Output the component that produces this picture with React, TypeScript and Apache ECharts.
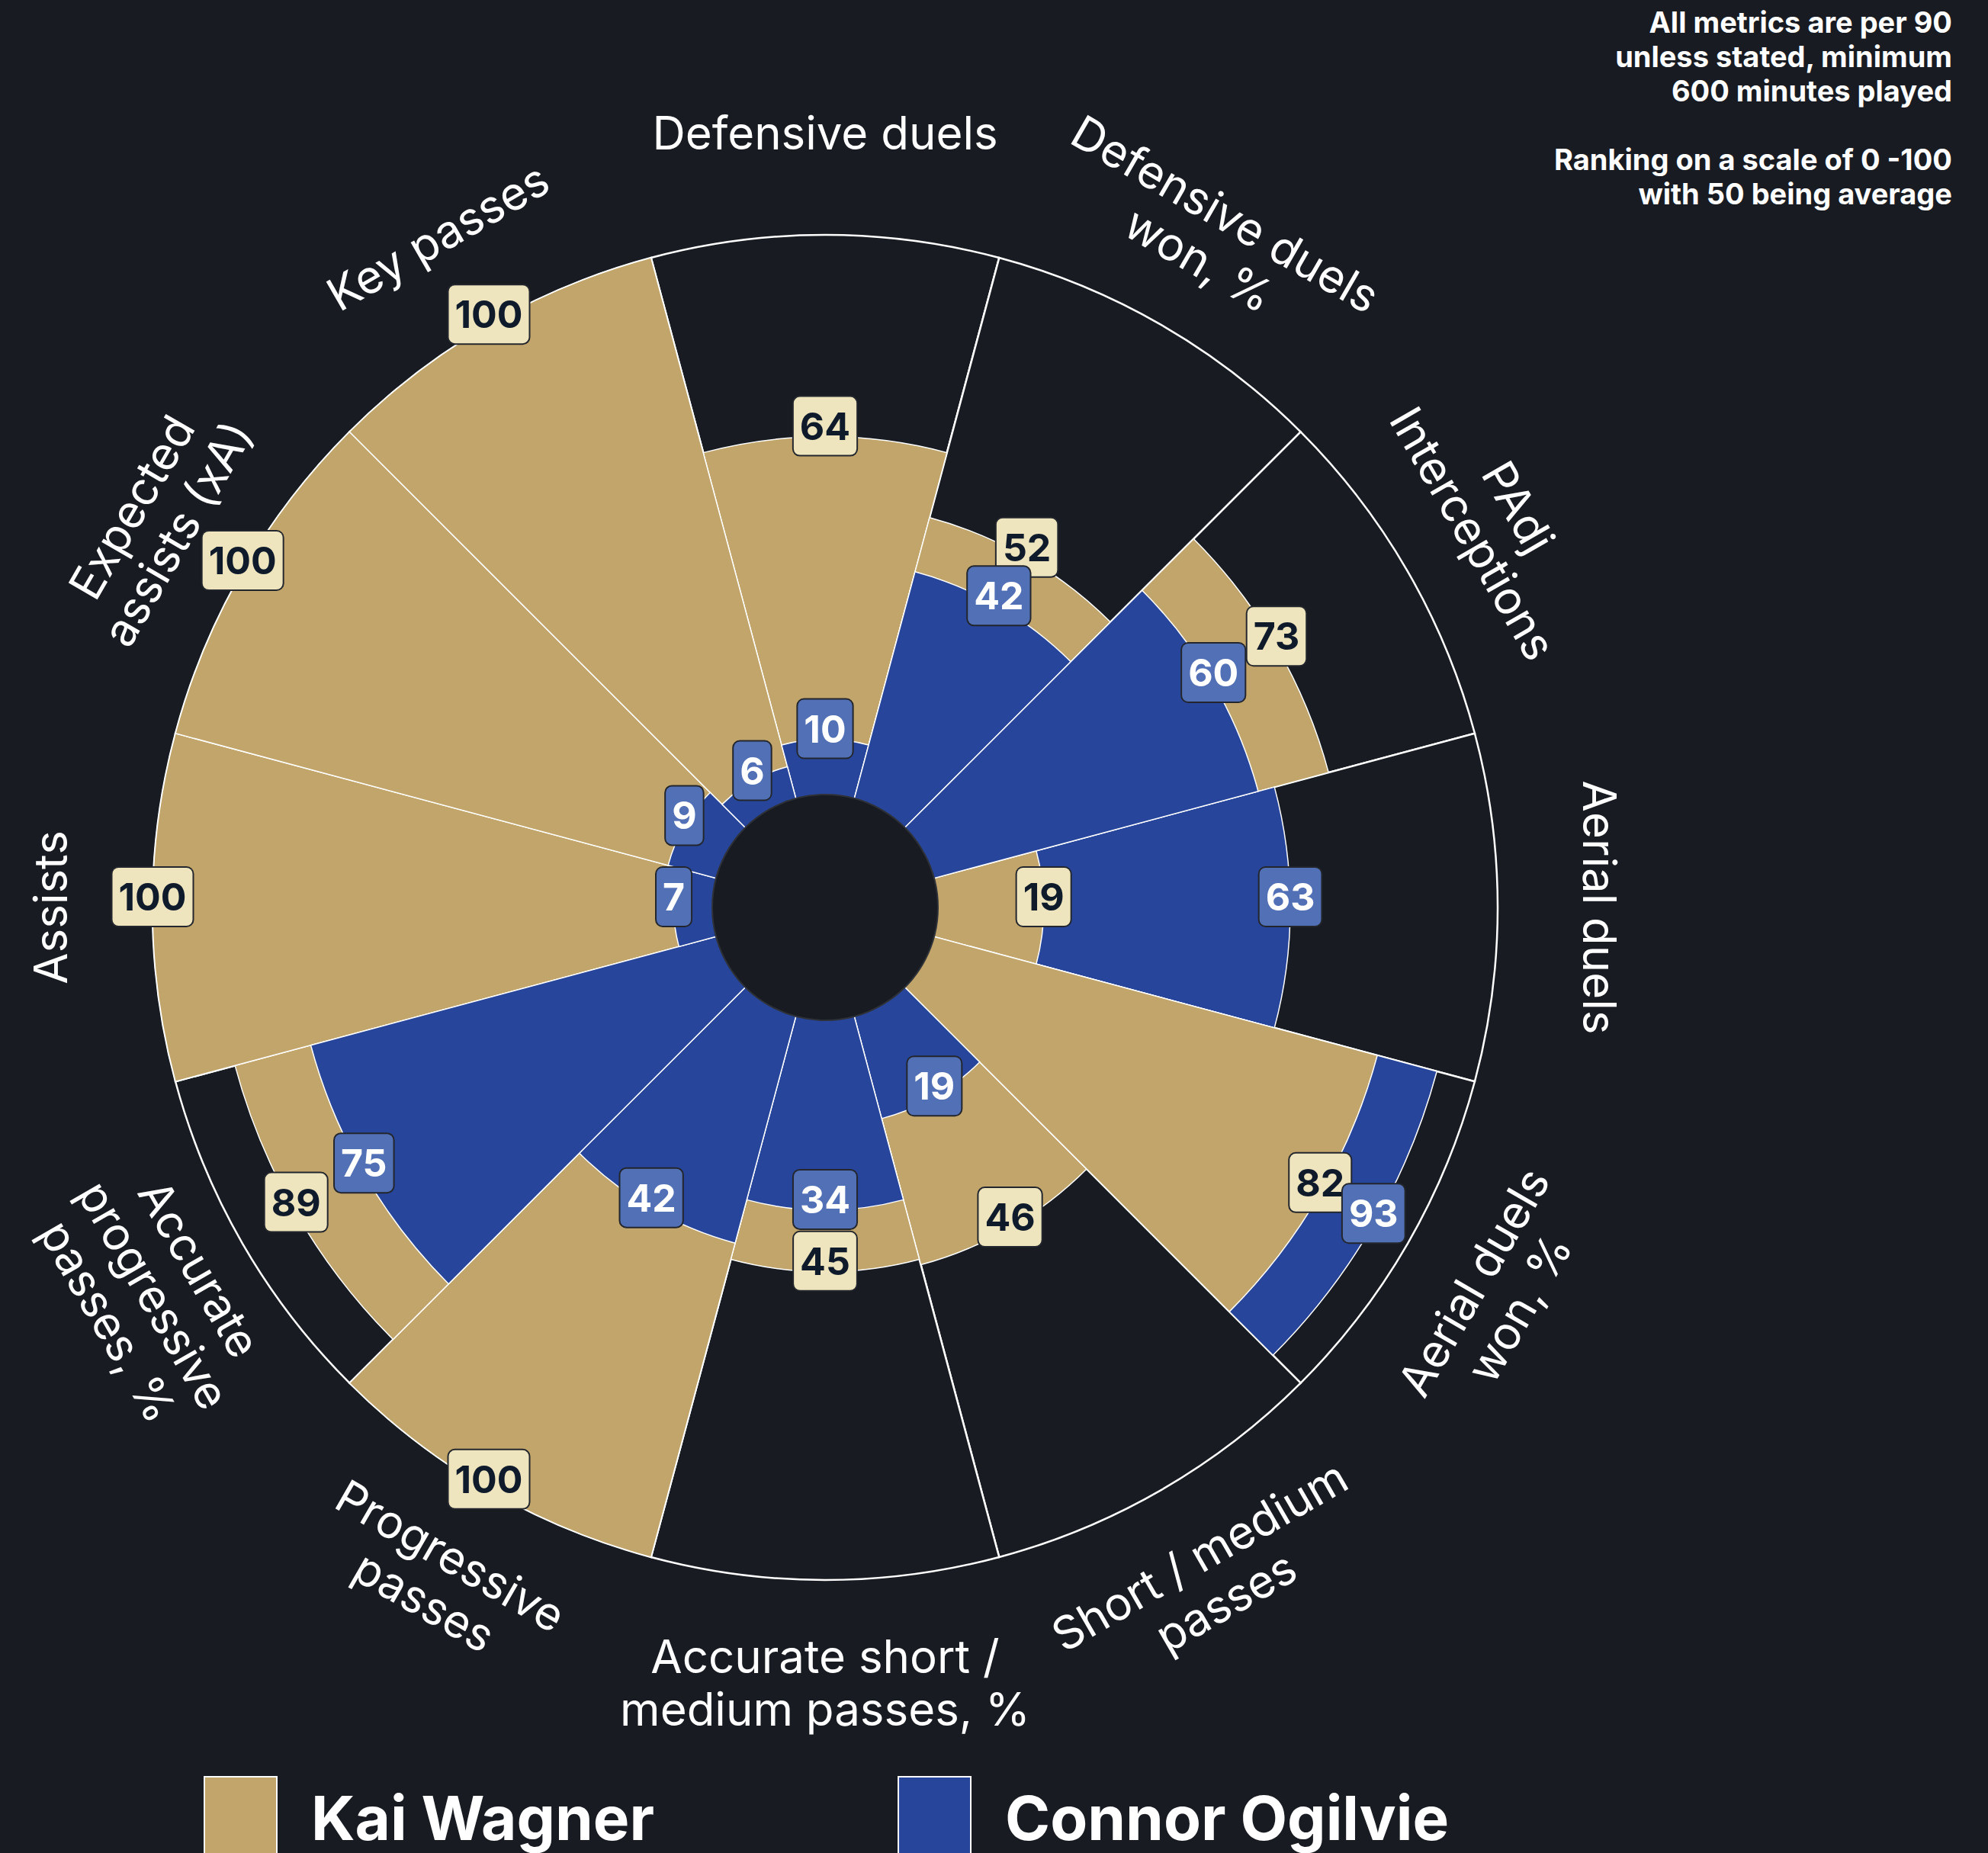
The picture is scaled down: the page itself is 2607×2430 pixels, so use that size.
import React, { useEffect, useRef } from "react";
import * as echarts from "echarts";

// ---------- data ----------
const categories = [
  "Defensive duels",
  "Defensive duels\nwon, %",
  "PAdj\nInterceptions",
  "Aerial duels",
  "Aerial duels\nwon, %",
  "Short / medium\npasses",
  "Accurate short /\nmedium passes, %",
  "Progressive\npasses",
  "Accurate\nprogressive\npasses, %",
  "Assists",
  "Expected\nassists (xA)",
  "Key passes",
];
const kaiValues = [64, 52, 73, 19, 82, 46, 45, 100, 89, 100, 100, 100];
const connorValues = [10, 42, 60, 63, 93, 19, 34, 42, 75, 7, 9, 6];
const players = ["Kai Wagner", "Connor Ogilvie"];
const noteLines = [
  "All metrics are per 90",
  "unless stated, minimum",
  "600 minutes played",
  "",
  "Ranking on a scale of 0 -100",
  "with 50 being average",
];

// ---------- style ----------
const BG = "#181c22";
const GOLD = "#c2a56b";
const BLUE = "#27469b";
const GOLD_LABEL = "#eee5be";
const BLUE_LABEL = "#5270b6";
const FONT = "Inter, 'Noto Sans', sans-serif";
const CX = 1082;
const CY = 1190;
const R_IN = 147;
const R_OUT = 882;
const R_LABEL = 1016;

export default function App() {
  const ref = useRef<HTMLDivElement>(null);

  useEffect(() => {
    const chart = echarts.init(ref.current!, null, { renderer: "svg" });

    const barBase = {
      type: "bar",
      coordinateSystem: "polar",
      barCategoryGap: "0%",
      barGap: "-100%",
      silent: true,
    };

    const kaiBack = kaiValues.map((v, i) => (v >= connorValues[i] ? v : "-"));
    const kaiFront = kaiValues.map((v, i) => (v < connorValues[i] ? v : "-"));
    const conBack = connorValues.map((v, i) => (v > kaiValues[i] ? v : "-"));
    const conFront = connorValues.map((v, i) => (v <= kaiValues[i] ? v : "-"));

    const labelBase = (bg: string, fg: string) => ({
      show: true,
      position: "inside",
      offset: [0, -14],
      formatter: (p: any) => String(p.value[0]),
      backgroundColor: bg,
      color: fg,
      opacity: 1,
      borderColor: "#23272d",
      borderWidth: 2,
      borderRadius: 8,
      padding: [12, 8, 12, 8],
      fontSize: 50,
      lineHeight: 52,
      fontWeight: "bold",
      fontFamily: FONT,
    });

    const n = categories.length;
    const catLabels = categories.map((c, i) => {
      const theta = 90 - (i * 360) / n;
      const t = (theta * Math.PI) / 180;
      let rot = theta - 90;
      while (rot <= -180) rot += 360;
      while (rot > 180) rot -= 360;
      if (rot < -90) rot += 180;
      if (rot > 90) rot -= 180;
      return {
        type: "text",
        x: CX + R_LABEL * Math.cos(t),
        y: CY - R_LABEL * Math.sin(t),
        rotation: (rot * Math.PI) / 180,
        silent: true,
        style: {
          text: c,
          x: 0,
          y: 0,
          align: "center",
          verticalAlign: "middle",
          fill: "#ffffff",
          fontSize: 60,
          lineHeight: 69,
          fontFamily: FONT,
          fontWeight: "normal",
        },
      };
    });

    const option: any = {
      animation: false,
      backgroundColor: BG,
      polar: { center: [CX, CY], radius: [R_IN, R_OUT] },
      angleAxis: {
        type: "category",
        data: categories,
        startAngle: 90 + 180 / n,
        clockwise: true,
        axisLine: { show: false },
        axisTick: { show: false },
        axisLabel: { show: false },
        splitLine: { show: false },
      },
      radiusAxis: {
        type: "value",
        min: 0,
        max: 100,
        axisLine: { show: false },
        axisTick: { show: false },
        axisLabel: { show: false },
        splitLine: { show: false },
      },
      legend: {
        data: players,
        left: 262,
        top: 2324,
        icon: "rect",
        itemWidth: 95,
        itemHeight: 106,
        itemGap: 319,
        selectedMode: false,
        textStyle: {
          color: "#ffffff",
          fontSize: 80,
          lineHeight: 80,
          fontWeight: "bold",
          fontFamily: FONT,
          padding: [0, 0, 0, 40],
        },
      },
      series: [
        {
          ...barBase,
          data: categories.map(() => 100),
          itemStyle: { color: BG, borderColor: "#ffffff", borderWidth: 2.5 },
          z: 1,
        },
        {
          ...barBase,
          name: players[0],
          data: kaiBack,
          itemStyle: { color: GOLD, borderColor: "#ffffff", borderWidth: 1.5 },
          z: 2,
        },
        {
          ...barBase,
          name: players[1],
          data: conBack,
          itemStyle: { color: BLUE, borderColor: "#ffffff", borderWidth: 1.5 },
          z: 2,
        },
        {
          ...barBase,
          name: players[0],
          data: kaiFront,
          itemStyle: { color: GOLD, borderColor: "#ffffff", borderWidth: 1.5 },
          z: 3,
        },
        {
          ...barBase,
          name: players[1],
          data: conFront,
          itemStyle: { color: BLUE, borderColor: "#ffffff", borderWidth: 1.5 },
          z: 3,
        },
        {
          type: "scatter",
          coordinateSystem: "polar",
          data: kaiValues.map((v, i) => [v, i]),
          symbolSize: 1,
          itemStyle: { color: "rgba(0,0,0,0)", opacity: 1 },
          label: labelBase(GOLD_LABEL, "#0f1b2b"),
          silent: true,
          z: 10,
        },
        {
          type: "scatter",
          coordinateSystem: "polar",
          data: connorValues.map((v, i) => [v, i]),
          symbolSize: 1,
          itemStyle: { color: "rgba(0,0,0,0)", opacity: 1 },
          label: labelBase(BLUE_LABEL, "#ffffff"),
          silent: true,
          z: 11,
        },
      ],
      graphic: [
        {
          type: "circle",
          shape: { cx: CX, cy: CY, r: R_IN + 1 },
          style: { fill: BG, stroke: "#2e3238", lineWidth: 2 },
          silent: true,
          z: 5,
        },
        ...catLabels,
        {
          type: "text",
          x: 2560,
          y: 6,
          silent: true,
          style: {
            text: noteLines.join("\n"),
            x: 0,
            y: 0,
            align: "right",
            verticalAlign: "top",
            fill: "#ffffff",
            fontSize: 38,
            lineHeight: 45,
            fontWeight: "bold",
            fontFamily: FONT,
          },
        },
      ],
    };

    chart.setOption(option);
    return () => chart.dispose();
  }, []);

  return (
    <div
      ref={ref}
      style={{ position: "absolute", left: 0, top: 0, width: 2607, height: 2430 }}
    />
  );
}
